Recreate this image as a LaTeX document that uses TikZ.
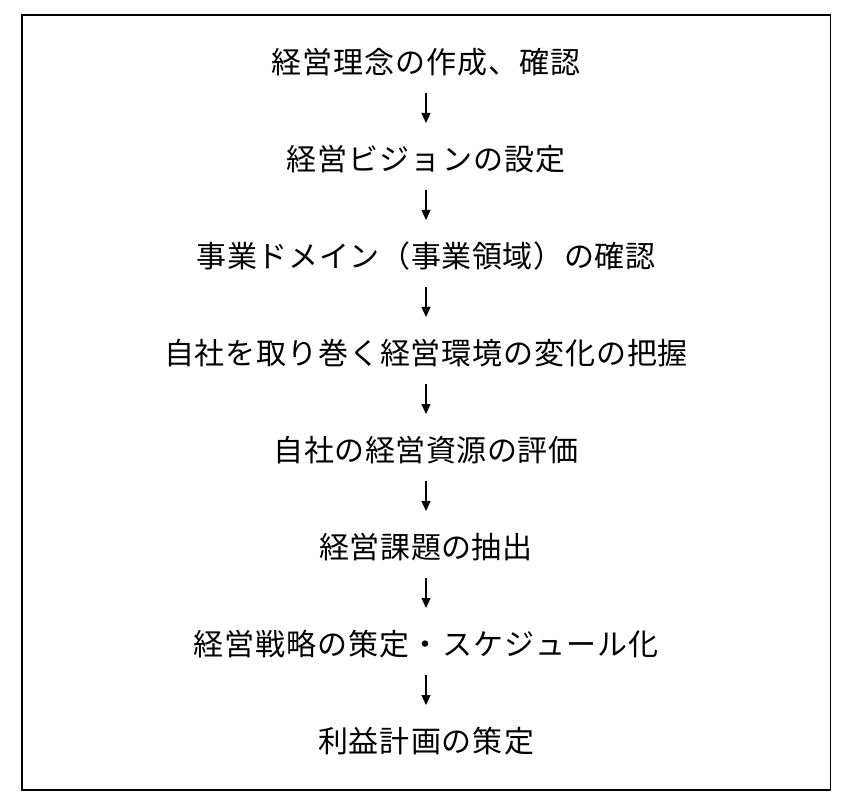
\documentclass[tikz,border=0pt]{standalone}
\usepackage{fontspec}
\newfontfamily\jp{Noto Sans CJK JP}
\usetikzlibrary{arrows.meta}
\makeatletter
\newcommand\spreadline[2]{\makebox[#1][s]{\@tfor\spch:=#2\do{\spch\hspace{0pt plus 1fil minus 1fil}}\unskip}}
\makeatother
\begin{document}
\begin{tikzpicture}[x=1pt,y=-1pt,
  flowtext/.style={inner sep=0pt, font=\jp\fontsize{30}{30}\selectfont},
  flow/.style={-{Triangle[width=9pt,length=10pt]}, line width=1.2pt, shorten <=30.5pt, shorten >=36.5pt},
  frame/.style={line width=1.2pt}]
\useasboundingbox (0,0) rectangle (852,805);
\draw[frame] (22,15) rectangle (830.5,790);
\node[flowtext] (t1) at (426,62.5)  {\spreadline{310pt}{経営理念の作成、確認}};
\node[flowtext] (t2) at (426,159.5) {\spreadline{280pt}{経営ビジョンの設定}};
\node[flowtext] (t3) at (426,256.5) {\spreadline{459pt}{事業ドメイン（事業領域）の確認}};
\node[flowtext] (t4) at (426,353.5) {\spreadline{524pt}{自社を取り巻く経営環境の変化の把握}};
\node[flowtext] (t5) at (426,450.5) {\spreadline{305pt}{自社の経営資源の評価}};
\node[flowtext] (t6) at (426,547.5) {\spreadline{213pt}{経営課題の抽出}};
\node[flowtext] (t7) at (426,644.5) {\spreadline{466pt}{経営戦略の策定・スケジュール化}};
\node[flowtext] (t8) at (426,741.5) {\spreadline{216pt}{利益計画の策定}};
\draw[flow] (t1.center) -- (t2.center);
\draw[flow] (t2.center) -- (t3.center);
\draw[flow] (t3.center) -- (t4.center);
\draw[flow] (t4.center) -- (t5.center);
\draw[flow] (t5.center) -- (t6.center);
\draw[flow] (t6.center) -- (t7.center);
\draw[flow] (t7.center) -- (t8.center);
\end{tikzpicture}
\end{document}
